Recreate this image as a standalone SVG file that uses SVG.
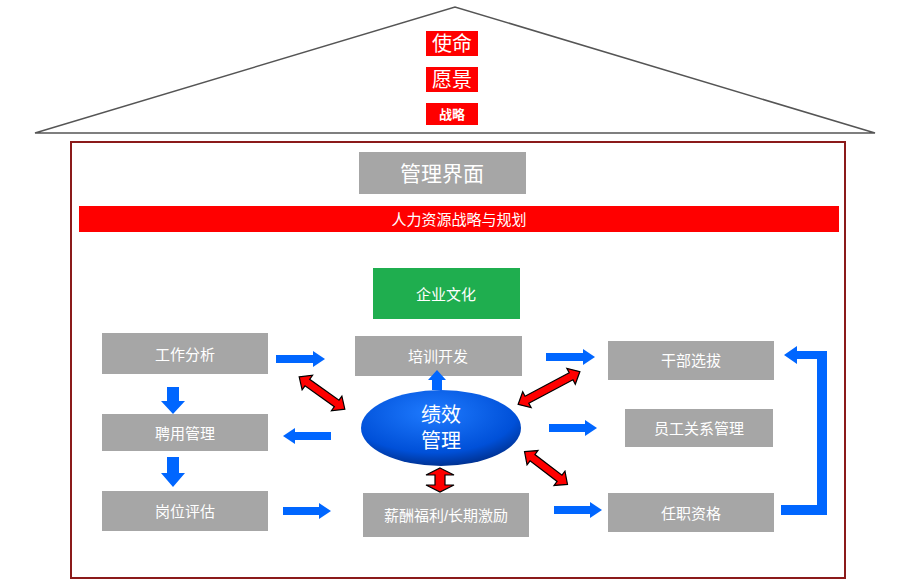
<svg xmlns="http://www.w3.org/2000/svg" width="922" height="585" viewBox="0 0 922 585">
<defs>
<style>
text{font-family:"Liberation Sans","Noto Sans CJK SC",sans-serif;text-anchor:middle;dominant-baseline:central;fill:#fff}
.g{fill:#a6a6a6}
.t{font-size:15px}
.b{fill:#0066ff}
.r{fill:#ff0000;stroke:#000;stroke-width:1.2}
</style>
<radialGradient id="eg" cx="0.45" cy="0.3" r="0.75">
<stop offset="0" stop-color="#1f7bff"/><stop offset="0.7" stop-color="#0050d8"/><stop offset="1" stop-color="#002a80"/>
</radialGradient>
</defs>
<rect width="922" height="585" fill="#fff"/>
<polygon points="35,133 455,7 875,133" fill="none" stroke="#555" stroke-width="1.5"/>
<g id="mission"><rect x="426" y="31" width="52" height="25" fill="#f00"/><text x="452" y="44" font-size="20">使命</text></g>
<g id="vision"><rect x="426" y="67" width="52" height="25" fill="#f00"/><text x="452" y="80" font-size="20">愿景</text></g>
<g id="strategy"><rect x="426" y="103" width="52" height="22" fill="#f00"/><text x="452" y="114" font-size="13" font-weight="bold">战略</text></g>
<rect x="71" y="142" width="774" height="436" fill="none" stroke="#8b1a1a" stroke-width="2"/>
<g id="interface"><rect class="g" x="359" y="152" width="167" height="42"/><text x="442" y="173" font-size="21">管理界面</text></g>
<g id="hrplan"><rect x="79" y="206" width="760" height="26" fill="#f00"/><text x="459" y="219" class="t">人力资源战略与规划</text></g>
<g id="culture"><rect x="373" y="268" width="147" height="51" fill="#1fae4f"/><text x="446" y="294" class="t">企业文化</text></g>
<g id="jobanalysis"><rect class="g" x="102" y="333" width="166" height="41"/><text x="185" y="354" class="t">工作分析</text></g>
<g id="hiring"><rect class="g" x="102" y="414" width="166" height="37"/><text x="185" y="433" class="t">聘用管理</text></g>
<g id="jobeval"><rect class="g" x="102" y="491" width="166" height="40"/><text x="185" y="511" class="t">岗位评估</text></g>
<g id="training"><rect class="g" x="355" y="336" width="167" height="40"/><text x="438" y="356" class="t">培训开发</text></g>
<g id="pay"><rect class="g" x="363" y="493" width="166" height="44"/><text x="446" y="515" class="t">薪酬福利/长期激励</text></g>
<g id="cadre"><rect class="g" x="608" y="341" width="166" height="39"/><text x="691" y="360" class="t">干部选拔</text></g>
<g id="relations"><rect class="g" x="625" y="409" width="148" height="38"/><text x="699" y="428" class="t">员工关系管理</text></g>
<g id="qualification"><rect class="g" x="608" y="493" width="166" height="39"/><text x="691" y="513" class="t">任职资格</text></g>
<g id="perf"><ellipse cx="441" cy="428" rx="80" ry="38" fill="url(#eg)"/><text x="441" y="415" font-size="20">绩效</text><text x="441" y="441" font-size="20">管理</text></g>
<g id="connectors">
<path class="b" d="M276 355H313V351L325 359L313 367V363H276Z"/>
<path class="b" d="M331 432H295V428L283 436L295 444V440H331Z"/>
<path class="b" d="M283 507H319V503L331 511L319 519V515H283Z"/>
<path class="b" d="M546 353H583V349L595 357L583 365V361H546Z"/>
<path class="b" d="M549 424H585V420L597 428L585 436V432H549Z"/>
<path class="b" d="M554 506H590V502L602 510L590 518V514H554Z"/>
<path class="b" d="M432 390V380H428L437 370L446 380H442V390Z"/>
<path class="b" d="M167 387V401H161L173 414L185 401H179V387Z"/>
<path class="b" d="M167 457V473H161L173 487L185 473H179V457Z"/>
<path class="b" d="M781 505H817V359H797V364L784 355L797 346V351H827V515H781Z"/>
<g class="r">
<path transform="translate(322,393) rotate(35.4)" d="M-28 0L-18 -9L-18 -4L18 -4L18 -9L28 0L18 9L18 4L-18 4L-18 9Z"/>
<path transform="translate(549,388) rotate(-28)" d="M-35 0L-25 -9L-25 -4L25 -4L25 -9L35 0L25 9L25 4L-25 4L-25 9Z"/>
<path transform="translate(546,468) rotate(37.3)" d="M-27 0L-17 -9L-17 -4L17 -4L17 -9L27 0L17 9L17 4L-17 4L-17 9Z"/>
<path transform="translate(440,480) rotate(90)" d="M-12 0L-5 -14L-5 -5L5 -5L5 -14L12 0L5 14L5 5L-5 5L-5 14Z"/>
</g>
</g>
</svg>
